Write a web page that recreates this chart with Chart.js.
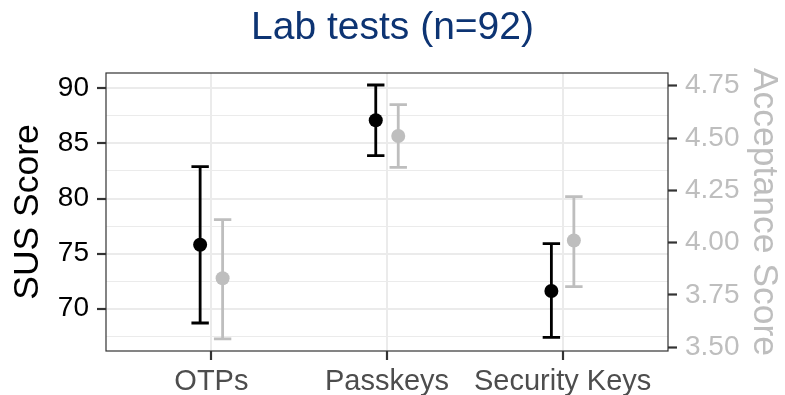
<!DOCTYPE html>
<html>
<head>
<meta charset="utf-8">
<script src="https://cdn.jsdelivr.net/npm/chart.js@4.4.1/dist/chart.umd.min.js"></script>
<style>
  body { margin: 0; background: #fff; }
  #wrap { width: 785px; height: 395px; }
</style>
</head>
<body>
<div id="wrap"><canvas id="chart" width="785" height="395"></canvas></div>
<script>
// Lab tests: SUS score (left axis) and acceptance score (right axis), mean with error bars
const categories = ['OTPs', 'Passkeys', 'Security Keys'];

const susMean = [75.8, 87.1, 71.6];
const susLow = [68.7, 83.9, 67.4];
const susHigh = [82.9, 90.3, 75.9];

const accMean = [3.83, 4.51, 4.01];
const accLow = [3.54, 4.36, 3.79];
const accHigh = [4.11, 4.66, 4.22];

const susTicks = [70, 75, 80, 85, 90];
const accTicks = [3.5, 3.75, 4.0, 4.25, 4.5, 4.75];

const DODGE = 0.064;
const GRID = '#EBEBEB';
const DARK = '#333333';
const LIGHT = '#BEBEBE';
const FONT = "'Liberation Sans', Arial, Helvetica, sans-serif";

// whiskers drawn behind the points, from each dataset's low/high arrays
const errorBars = {
  id: 'errorBars',
  beforeDatasetsDraw(chart) {
    const ctx = chart.ctx;
    chart.data.datasets.forEach((ds, i) => {
      const meta = chart.getDatasetMeta(i);
      const yScale = chart.scales[ds.yAxisID];
      ctx.save();
      ctx.strokeStyle = ds.borderColor;
      ctx.lineWidth = 2.8;
      meta.data.forEach((pt, j) => {
        const yl = yScale.getPixelForValue(ds.low[j]);
        const yh = yScale.getPixelForValue(ds.high[j]);
        const w = 8.7;
        ctx.beginPath();
        ctx.moveTo(pt.x, yl); ctx.lineTo(pt.x, yh);
        ctx.moveTo(pt.x - w, yl); ctx.lineTo(pt.x + w, yl);
        ctx.moveTo(pt.x - w, yh); ctx.lineTo(pt.x + w, yh);
        ctx.stroke();
      });
      ctx.restore();
    });
  }
};

// panel border like theme_bw
const panelBorder = {
  id: 'panelBorder',
  afterDatasetsDraw(chart) {
    const a = chart.chartArea;
    const ctx = chart.ctx;
    ctx.save();
    ctx.strokeStyle = DARK;
    ctx.lineWidth = 1.2;
    ctx.strokeRect(a.left, a.top, a.right - a.left, a.bottom - a.top);
    ctx.restore();
  }
};

const isMajor = (v) => susTicks.some(t => Math.abs(t - v) < 1e-6);

new Chart(document.getElementById('chart'), {
  type: 'scatter',
  data: {
    datasets: [
      {
        label: 'SUS Score',
        data: susMean.map((v, i) => ({ x: i + 1 - DODGE, y: v })),
        low: susLow, high: susHigh,
        yAxisID: 'y',
        backgroundColor: '#000000', borderColor: '#000000',
        pointRadius: 7, pointBorderWidth: 0
      },
      {
        label: 'Acceptance Score',
        data: accMean.map((v, i) => ({ x: i + 1 + DODGE, y: v })),
        low: accLow, high: accHigh,
        yAxisID: 'y2',
        backgroundColor: LIGHT, borderColor: LIGHT,
        pointRadius: 7, pointBorderWidth: 0
      }
    ]
  },
  options: {
    responsive: false,
    animation: false,
    layout: { padding: 0 },
    plugins: {
      legend: { display: false },
      tooltip: { enabled: false },
      title: {
        display: true,
        text: 'Lab tests (n=92)',
        color: '#0D3473',
        font: { family: FONT, size: 39, weight: 'normal', lineHeight: 1.2 },
        padding: { top: 4.5, bottom: 21.7 }
      }
    },
    scales: {
      x: {
        type: 'linear',
        min: 0.4, max: 3.6,
        afterFit(s) { s.height = 44; },
        ticks: {
          stepSize: 1,
          includeBounds: false,
          autoSkip: false,
          maxRotation: 0,
          padding: 5,
          color: '#4D4D4D',
          font: { family: FONT, size: 29 },
          callback: (v) => categories[Math.round(v) - 1] || ''
        },
        grid: { color: GRID, lineWidth: 2, tickColor: DARK, tickLength: 9, tickWidth: 2.2 },
        border: { display: false }
      },
      y: {
        position: 'left',
        min: 66.16, max: 91.39,
        afterFit(s) { s.width = 106; },
        ticks: {
          stepSize: 2.5,
          includeBounds: false,
          autoSkip: false,
          padding: 8,
          color: '#000000',
          font: { family: FONT, size: 28 },
          callback: (v) => isMajor(v) ? String(v) : ''
        },
        grid: {
          color: GRID,
          lineWidth: (c) => isMajor(c.tick.value) ? 2 : 1,
          tickColor: (c) => isMajor(c.tick.value) ? DARK : 'rgba(0,0,0,0)',
          tickLength: 9,
          tickWidth: 2.2
        },
        border: { display: false },
        title: {
          display: true,
          text: 'SUS Score',
          color: '#000000',
          font: { family: FONT, size: 35.5, lineHeight: 1.2 },
          padding: { top: 7, bottom: 0 }
        }
      },
      y2: {
        position: 'right',
        min: 3.482, max: 4.811,
        afterFit(s) { s.width = 117; },
        ticks: {
          stepSize: 0.25,
          includeBounds: false,
          autoSkip: false,
          padding: 8,
          color: LIGHT,
          font: { family: FONT, size: 28 },
          callback: (v) => accTicks.some(t => Math.abs(t - v) < 1e-6) ? v.toFixed(2) : ''
        },
        grid: { drawOnChartArea: false, tickColor: DARK, tickLength: 9, tickWidth: 2.2 },
        border: { display: false },
        title: {
          display: true,
          text: 'Acceptance Score',
          color: LIGHT,
          font: { family: FONT, size: 35.5, lineHeight: 1.2 },
          padding: { top: 0, bottom: 0 }
        }
      }
    }
  },
  plugins: [errorBars, panelBorder]
});
</script>
</body>
</html>
